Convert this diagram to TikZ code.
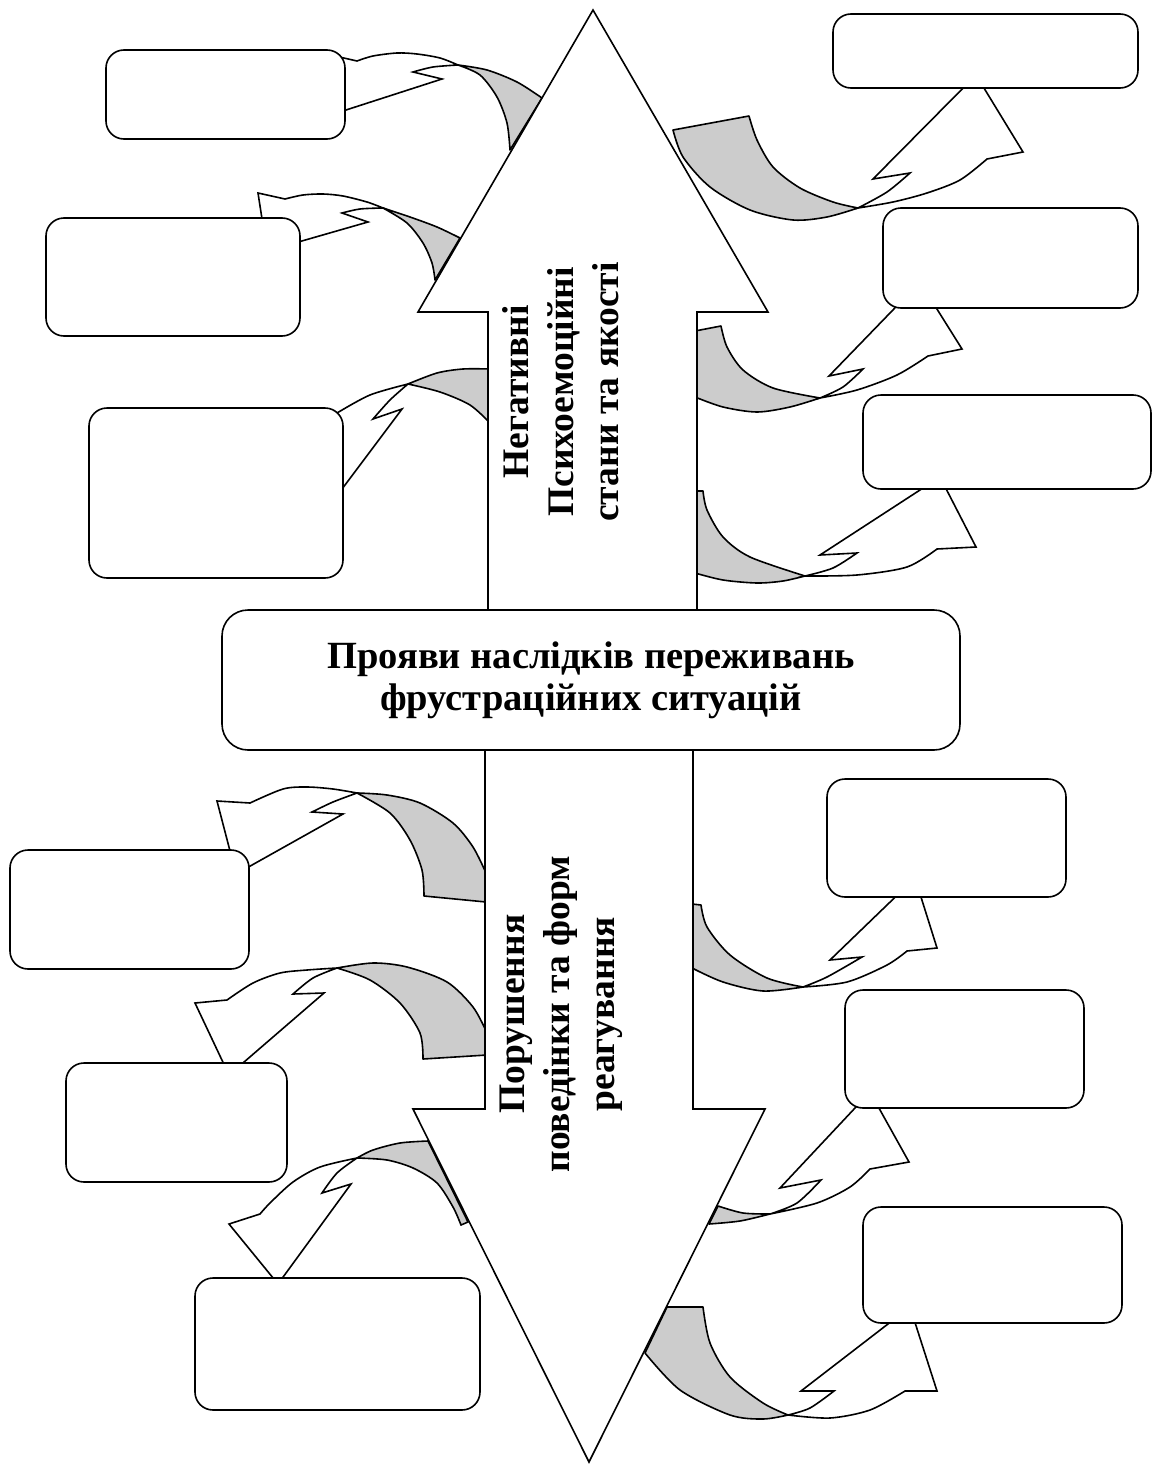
\documentclass[tikz,border=0pt]{standalone}
\usepackage{fontspec}
\setmainfont{Liberation Serif}
\definecolor{bandgray}{RGB}{204,204,204}
\tikzset{
  bandg/.style={fill=bandgray, draw=black, line width=1.6pt, line join=round},
  bandw/.style={fill=white, draw=black, line width=1.6pt, line join=miter},
  bigarr/.style={fill=white, draw=black, line width=1.6pt},
  emptybox/.style={draw=black, fill=white, line width=1.6pt, rounded corners=18pt, inner sep=0pt},
  mainbox/.style={draw=black, fill=white, line width=1.6pt, rounded corners=26pt, inner sep=0pt, align=center,
    font=\bfseries\fontsize{38.5}{42}\selectfont},
  vtext/.style={rotate=90, align=center, font=\bfseries\fontsize{37.5}{45}\selectfont, inner sep=0pt}
}
\begin{document}
\begin{tikzpicture}[x=1pt,y=-1pt]
\useasboundingbox (0,0) rectangle (1153,1464);

% ---------- curved arrows: top left ----------
% TL1
\filldraw[bandg] plot[smooth] coordinates {(542,98) (517,82) (487,70) (458,65)}
  -- plot[smooth] coordinates {(458,65) (480,75) (497,97) (507,123) (510,150)} -- cycle;
\filldraw[bandw] plot[smooth] coordinates {(458,65) (440,58) (417,54) (397,53) (373,56) (357,61)}
  -- (335,56) -- (315,120) -- (442,79)
  -- plot[smooth] coordinates {(413,72) (433,67) (458,65)} -- cycle;
% TL2
\filldraw[bandg] plot[smooth] coordinates {(460,238) (437,227) (410,217) (383,208)}
  -- plot[smooth] coordinates {(383,208) (407,223) (423,243) (432,263) (435,280)} -- cycle;
\filldraw[bandw] plot[smooth] coordinates {(383,208) (367,202) (343,196) (323,194) (303,195) (285,199)}
  -- (258,193) -- (267,251) -- (368,222)
  -- plot[smooth] coordinates {(342,213) (360,209) (383,208)} -- cycle;
% TL3
\filldraw[bandg] plot[smooth] coordinates {(490,369) (463,369) (437,373) (408,384)}
  -- plot[smooth] coordinates {(408,384) (440,392) (470,405) (490,423)} -- cycle;
\filldraw[bandw] plot[smooth] coordinates {(408,384) (370,395) (337,413)}
  -- (325,430) -- (330,505) -- (402,409)
  -- plot[smooth] coordinates {(373,419) (390,400) (408,384)} -- cycle;

% ---------- curved arrows: top right ----------
% TR1
\filldraw[bandg] plot[smooth] coordinates {(673,130) (683,157) (710,187) (750,210) (793,220) (827,217) (858,208)}
  -- plot[smooth] coordinates {(858,208) (833,202) (800,188) (773,167) (757,140) (749,116)} -- cycle;
\filldraw[bandw] plot[smooth] coordinates {(858,208) (893,202) (927,193) (960,180) (987,159)}
  -- (1023,152) -- (976,75) -- (873,179)
  -- plot[smooth] coordinates {(910,173) (887,192) (858,208)} -- cycle;
% TR2
\filldraw[bandg] plot[smooth] coordinates {(695,397) (723,407) (757,412) (790,407) (820,398)}
  -- plot[smooth] coordinates {(820,398) (773,388) (743,370) (727,347) (721,326)} -- (695,331) -- cycle;
\filldraw[bandw] plot[smooth] coordinates {(820,398) (857,390) (897,375) (928,356)}
  -- (962,349) -- (920,282) -- (829,376)
  -- plot[smooth] coordinates {(863,369) (843,387) (820,398)} -- cycle;
% TR3
\filldraw[bandg] plot[smooth] coordinates {(695,573) (723,580) (757,583) (783,581) (805,576)}
  -- plot[smooth] coordinates {(805,576) (750,557) (723,537) (707,510) (703,491)} -- (695,491) -- cycle;
\filldraw[bandw] plot[smooth] coordinates {(805,576) (857,575) (907,567) (937,549)}
  -- (976,547) -- (940,477) -- (820,555)
  -- plot[smooth] coordinates {(857,553) (833,568) (805,576)} -- cycle;

% ---------- curved arrows: bottom left ----------
% BL1
\filldraw[bandg] plot[smooth] coordinates {(486,873) (473,847) (453,823) (420,803) (387,795) (357,793)}
  -- plot[smooth] coordinates {(357,793) (390,813) (410,840) (422,870) (424,896)} -- (486,902) -- cycle;
\filldraw[bandw] plot[smooth] coordinates {(357,793) (333,789) (307,787) (283,789) (250,803)}
  -- (217,801) -- (236,874) -- (343,814)
  -- plot[smooth] coordinates {(312,812) (333,802) (357,793)} -- cycle;
% BL2
\filldraw[bandg] plot[smooth] coordinates {(487,1033) (473,1007) (447,982) (407,967) (373,963) (337,968)}
  -- plot[smooth] coordinates {(337,968) (370,980) (400,1003) (420,1033) (423,1059)} -- (487,1055) -- cycle;
\filldraw[bandw] plot[smooth] coordinates {(337,968) (307,970) (280,973) (253,983) (227,1000)}
  -- (195,1003) -- (229,1075) -- (324,993)
  -- plot[smooth] coordinates {(293,994) (313,978) (337,968)} -- cycle;
% BL3
\filldraw[bandg] plot[smooth] coordinates {(461,1225) (453,1207) (437,1183) (413,1168) (387,1160) (357,1158)}
  -- plot[smooth] coordinates {(357,1158) (373,1150) (400,1143) (428,1141)} -- (468,1222) -- cycle;
\filldraw[bandw] plot[smooth] coordinates {(357,1158) (320,1167) (293,1182) (270,1203) (260,1214)}
  -- (229,1224) -- (278,1284) -- (351,1184)
  -- plot[smooth] coordinates {(322,1193) (337,1173) (357,1158)} -- cycle;

% ---------- curved arrows: bottom right ----------
% BR1
\filldraw[bandg] plot[smooth] coordinates {(692,968) (723,982) (763,991) (803,987)}
  -- plot[smooth] coordinates {(803,987) (767,978) (730,955) (707,927) (701,905)} -- (692,904) -- cycle;
\filldraw[bandw] plot[smooth] coordinates {(803,987) (847,982) (887,965) (907,951)}
  -- (937,948) -- (915,878) -- (830,960)
  -- plot[smooth] coordinates {(862,957) (827,977) (803,987)} -- cycle;
% BR2
\filldraw[bandg] plot[smooth] coordinates {(709,1224) (740,1221) (770,1214)}
  -- plot[smooth] coordinates {(770,1214) (743,1213) (718,1206)} -- cycle;
\filldraw[bandw] plot[smooth] coordinates {(770,1214) (817,1203) (850,1187) (870,1169)}
  -- (909,1162) -- (870,1092) -- (780,1188)
  -- plot[smooth] coordinates {(821,1180) (797,1203) (770,1214)} -- cycle;
% BR3
\filldraw[bandg] plot[smooth] coordinates {(645,1353) (680,1390) (730,1415) (763,1419) (788,1415)}
  -- plot[smooth] coordinates {(788,1415) (763,1403) (730,1377) (710,1343) (703,1307)} -- (667,1307) -- cycle;
\filldraw[bandw] plot[smooth] coordinates {(788,1415) (830,1418) (870,1410) (905,1391)}
  -- (937,1391) -- (910,1307) -- (801,1391)
  -- plot[smooth] coordinates {(834,1391) (810,1408) (788,1415)} -- cycle;

% ---------- big double arrow ----------
\filldraw[bigarr] (488,650) -- (488,312) -- (418,312) -- (593,10) -- (768,312) -- (697,312) -- (697,650) -- cycle;
\filldraw[bigarr] (485,720) -- (485,1109) -- (413,1109) -- (589,1462) -- (765,1109) -- (693,1109) -- (693,720) -- cycle;

% ---------- boxes ----------
\node[emptybox, minimum width=239pt, minimum height=89pt]  (l1)  at (225.5,94.5) {};
\node[emptybox, minimum width=254pt, minimum height=118pt] (l2)  at (173,277) {};
\node[emptybox, minimum width=254pt, minimum height=170pt] (l3)  at (216,493) {};
\node[emptybox, minimum width=305pt, minimum height=74pt]  (r1)  at (985.5,51) {};
\node[emptybox, minimum width=255pt, minimum height=100pt] (r2)  at (1010.5,258) {};
\node[emptybox, minimum width=288pt, minimum height=94pt]  (r3)  at (1007,442) {};
\node[emptybox, minimum width=239pt, minimum height=119pt] (bl1) at (129.5,909.5) {};
\node[emptybox, minimum width=221pt, minimum height=119pt] (bl2) at (176.5,1122.5) {};
\node[emptybox, minimum width=285pt, minimum height=132pt] (bl3) at (337.5,1344) {};
\node[emptybox, minimum width=239pt, minimum height=118pt] (br1) at (946.5,838) {};
\node[emptybox, minimum width=239pt, minimum height=118pt] (br2) at (964.5,1049) {};
\node[emptybox, minimum width=259pt, minimum height=116pt] (br3) at (992.5,1265) {};

\node[mainbox, minimum width=738pt, minimum height=140pt] (center) at (591,680)
  {Прояви наслідків переживань\\фрустраційних ситуацій};

\node[vtext] (uptext) at (561,392) {Негативні\\Психоемоційні\\стани та якості};
\node[vtext] (downtext) at (561,1014) {Порушення\\поведінки та форм\\реагування};
\end{tikzpicture}
\end{document}
